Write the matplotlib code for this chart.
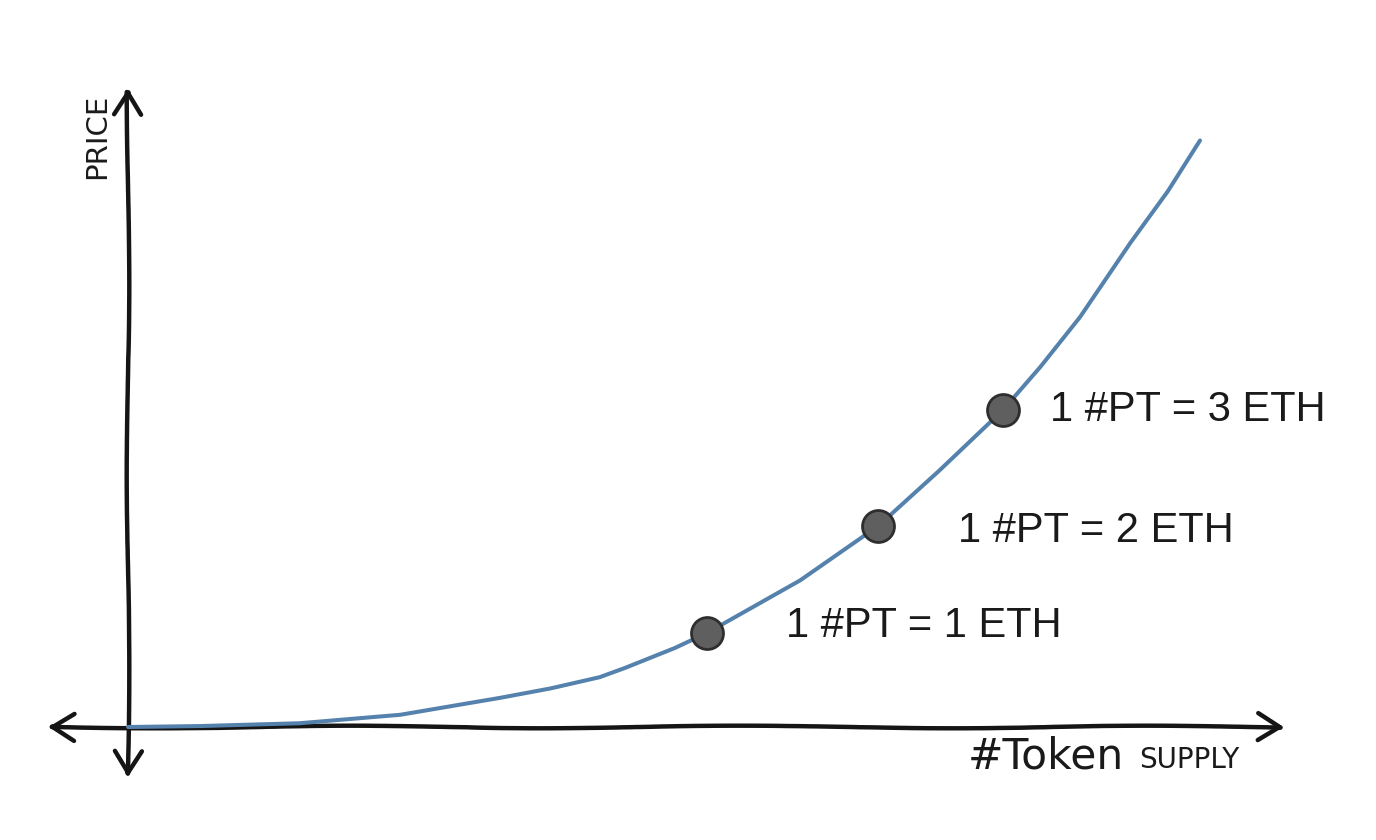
import matplotlib
matplotlib.use("Agg")
import matplotlib.pyplot as plt
import numpy as np

# ---- data ----
supply = [0.0, 0.67, 1.60, 2.54, 3.47, 3.94, 4.40, 4.64, 5.10, 5.40, 6.27, 7.00, 7.57,
          8.16, 8.51, 8.88, 9.35, 9.70, 10.0]
price = [0.0, 0.01, 0.04, 0.13, 0.31, 0.41, 0.53, 0.63, 0.84, 1.00, 1.56, 2.14, 2.73,
         3.37, 3.83, 4.36, 5.15, 5.70, 6.24]

dot_supply = [5.40, 7.00, 8.16]
dot_price = [1.00, 2.14, 3.37]
dot_labels = ["1 #PT = 1 ETH", "1 #PT = 2 ETH", "1 #PT = 3 ETH"]
label_offsets = [(57, 5), (57, -4), (34, 0)]  # points

x_label_main = "#Token"
x_label_small = "SUPPLY"
y_label = "PRICE"

W, H = 1376, 840
fig = plt.figure(figsize=(W / 100, H / 100), dpi=100)
fig.patch.set_facecolor("white")

# axes placed so that origin sits where the drawn axes cross
ox, oy = 128, 727
ex, ey = 1200, 140
ax = fig.add_axes([ox / W, (H - oy) / H, (ex - ox) / W, (oy - ey) / H])
ax.set_xlim(0, 10)
ax.set_ylim(0, 6.245)
ax.axis("off")

# hand-drawn looking axes arrows
arrow_kw = dict(arrowstyle="<->,head_length=1.6,head_width=1.0", lw=3.2, color="#151515",
                shrinkA=0, shrinkB=0)
xa = ax.annotate("", xy=(10.79, 0.0), xytext=(-0.75, 0.0),
                 arrowprops=arrow_kw, annotation_clip=False, zorder=1)
ya = ax.annotate("", xy=(0.0, 6.80), xytext=(0.0, -0.54),
                 arrowprops=arrow_kw, annotation_clip=False, zorder=1)
for a in (xa, ya):
    a.arrow_patch.set_sketch_params(scale=1.3, length=500, randomness=3)

# curve
ax.plot(supply, price, color="#5582ad", lw=2.9, solid_capstyle="round",
        solid_joinstyle="round", zorder=3, clip_on=False)

# dots
ax.plot(dot_supply, dot_price, "o", ms=23, mfc="#5f5f5f", mec="#2e2e2e", mew=2.0,
        zorder=4, clip_on=False)
for xs, ys, lab, off in zip(dot_supply, dot_price, dot_labels, label_offsets):
    ax.annotate(lab, xy=(xs, ys), xytext=off, textcoords="offset points",
                ha="left", va="center", fontsize=30, family="Liberation Sans",
                color="#1a1a1a", annotation_clip=False)

# axis labels
ax.annotate(x_label_main, xy=(1.0, 0.0), xycoords=("axes fraction", "data"),
            xytext=(-167, -6), textcoords="offset points", ha="left", va="top",
            fontsize=30.5, family="DejaVu Sans", color="#1a1a1a", annotation_clip=False)
ax.annotate(x_label_small, xy=(1.0, 0.0), xycoords=("axes fraction", "data"),
            xytext=(-44, -14), textcoords="offset points", ha="left", va="top",
            fontsize=20, family="DejaVu Sans", color="#1a1a1a", annotation_clip=False)
ax.annotate(y_label, xy=(0.0, 6.80), xycoords="data",
            xytext=(-22, -4), textcoords="offset points", ha="center", va="top",
            rotation=90, fontsize=21, family="DejaVu Sans", color="#1a1a1a",
            annotation_clip=False)

fig.savefig("out.png", dpi=100, facecolor="white")
